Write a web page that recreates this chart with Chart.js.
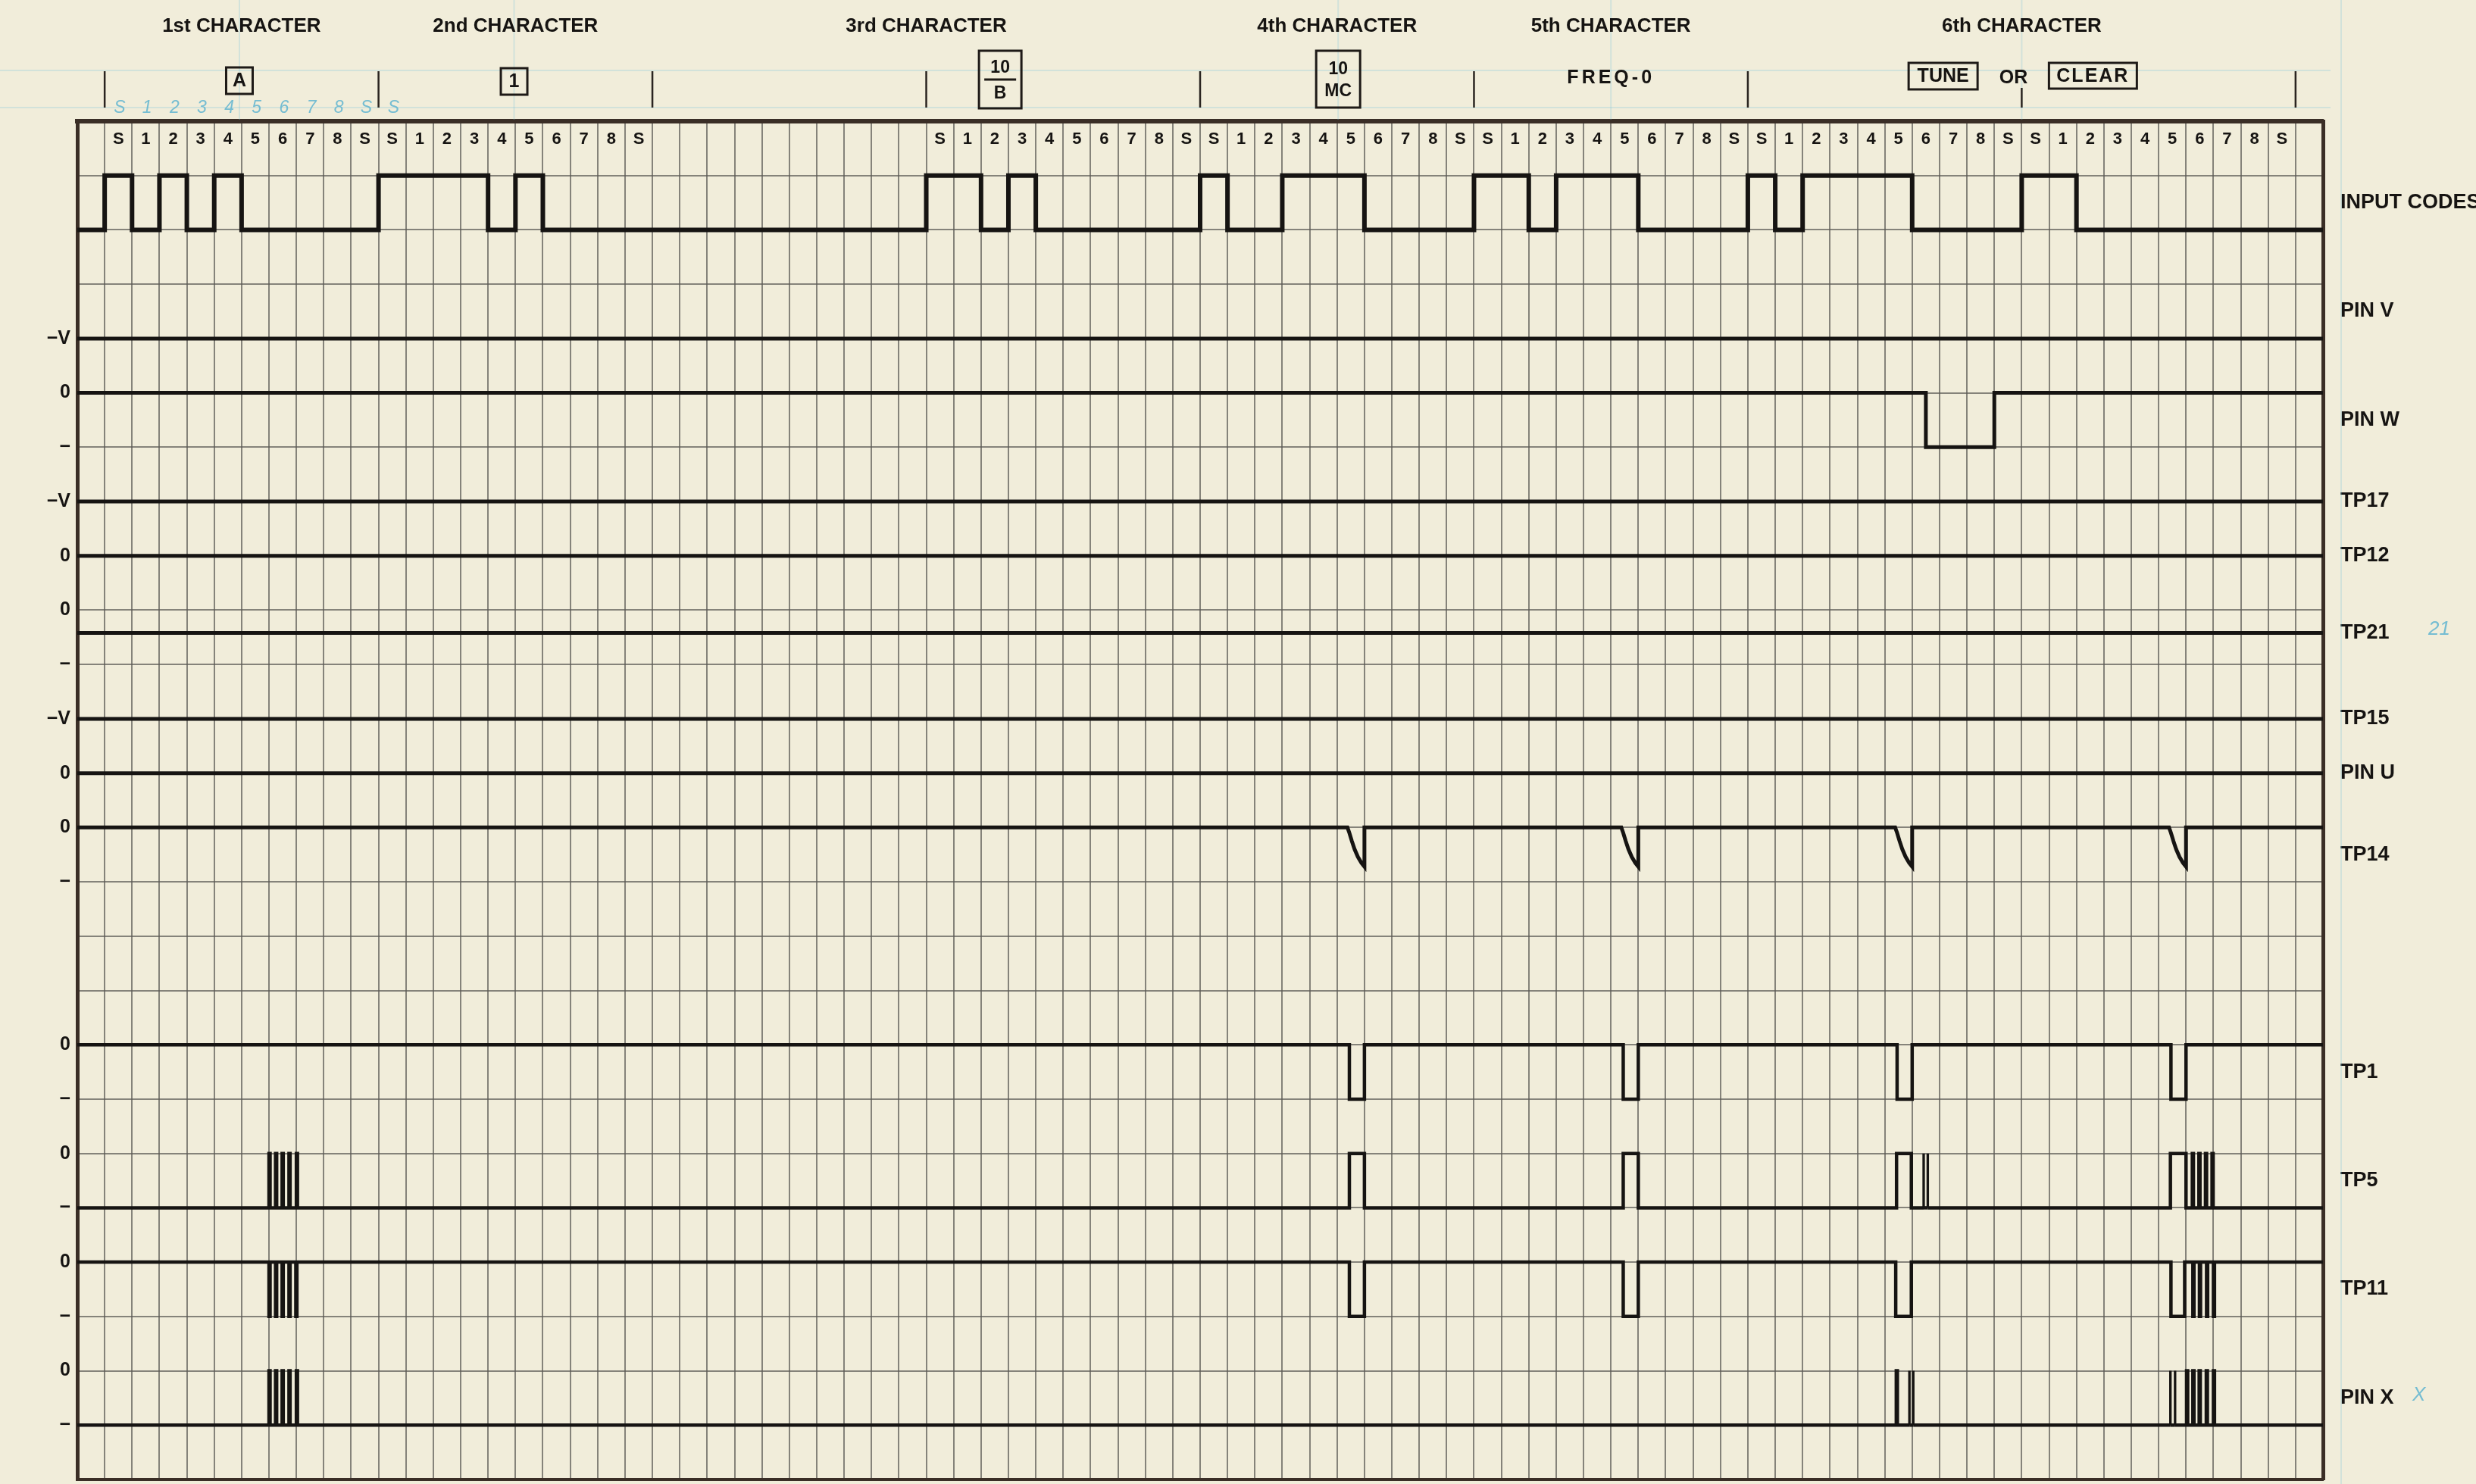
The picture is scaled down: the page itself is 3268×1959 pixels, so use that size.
<!DOCTYPE html>
<html>
<head>
<meta charset="utf-8">
<script src="https://cdn.jsdelivr.net/npm/chart.js@4.4.1/dist/chart.umd.min.js"></script>
<style>
  html, body { margin: 0; padding: 0; background: #f1edda; }
  canvas { display: block; }
</style>
</head>
<body>
<canvas id="c" width="3268" height="1959" style="width:3268px;height:1959px"></canvas>
<script>
// ---------------- DATA (column units along x, row units along y) ----------------
const COLS = 82;
const ROWS = 25;

// level labels on the left, one entry per grid row 0..25
const levelLabels = ['', '', '', '', '−V', '0', '−', '−V', '0', '0', '−', '−V', '0', '0', '−', '', '', '0', '−', '0', '−', '0', '−', '0', '−', ''];

// signal names on the right and the row each sits at
const signalNames = ['INPUT CODES', 'PIN V', 'PIN W', 'TP17', 'TP12', 'TP21', 'TP15', 'PIN U', 'TP14', 'TP1', 'TP5', 'TP11', 'PIN X'];
const signalLabelRows = [1.5, 3.5, 5.5, 7, 8, 9.42, 11, 12, 13.5, 17.5, 19.5, 21.5, 23.5];

// header
const charTitles = ['1st CHARACTER', '2nd CHARACTER', '3rd CHARACTER', '4th CHARACTER', '5th CHARACTER', '6th CHARACTER'];
const charTitleCols = [6, 16, 31, 46, 56, 71];
const charDividerCols = [1, 11, 21, 31, 41, 51, 61, 71, 81];
const codeDigits = ['S', '1', '2', '3', '4', '5', '6', '7', '8', 'S'];
const codeStartCols = [1, 11, 31, 41, 51, 61, 71];
const keyTexts = [['A'], ['1'], ['10', 'B'], ['10', 'MC'], ['FREQ-0'], ['TUNE'], ['OR'], ['CLEAR']];
const keyCols = [5.92, 15.95, 33.7, 46.04, 56, 68.13, 70.7, 73.6];
const noteDigits = ['S', '1', '2', '3', '4', '5', '6', '7', '8', 'S', 'S'];

// INPUT CODES: low row 2, high row 1
const inputLow = 2, inputHigh = 1;
const inputHighSpans = [[1, 2], [3, 4], [5, 6], [11, 15], [16, 17], [31, 33], [34, 35], [41, 42], [44, 47], [51, 53], [54, 57], [61, 62], [63, 67], [71, 73]];

// flat levels
const pinVLevel = 4;
const pinWLevel = 5, pinWLow = 6;
const pinWLowSpans = [[67.5, 70]];
const tp17Level = 7, tp12Level = 8, tp21Level = 9.42, tp15Level = 11, pinULevel = 12;

// TP14: baseline row 13 with curved negative spikes ending at the columns below
const tp14Level = 13;
const tp14SpikeCols = [47, 57, 67, 77];
const tp14SpikeDx = [-0.62, -0.55, -0.46, -0.36, -0.24, -0.11, 0, 0];
const tp14SpikeDy = [0, 0.1, 0.25, 0.4, 0.54, 0.65, 0.72, 0];

// TP1: high row 17, low row 18
const tp1High = 17, tp1Low = 18;
const tp1LowSpans = [[46.45, 47], [56.45, 57], [66.45, 67], [76.45, 77]];

// TP5: low row 20, high row 19
const tp5Low = 20, tp5High = 19;
const tp5HighSpans = [[46.45, 47], [56.45, 57], [66.43, 66.97], [76.43, 77]];
const tp5Bursts = [7, 7.24, 7.48, 7.73, 8, 77.23, 77.47, 77.71, 77.95];
const tp5ThinBursts = [67.42, 67.57];

// TP11: high row 21, low row 22
const tp11High = 21, tp11Low = 22;
const tp11LowSpans = [[46.45, 47], [56.45, 57], [66.4, 66.97], [76.45, 76.95]];
const tp11Bursts = [7, 7.24, 7.48, 7.73, 7.98, 77.25, 77.49, 77.75, 78];

// PIN X: low row 24, high row 23
const pinXLow = 24, pinXHigh = 23;
const pinXBursts = [7, 7.24, 7.48, 7.73, 8, 66.42, 77.02, 77.25, 77.48, 77.74, 78];
const pinXThinBursts = [66.9, 67.04, 76.43, 76.6];

// ---------------- helpers ----------------
const BAR = 0.04;
function stepTrace(base, alt, spans) {
  const s = spans.slice().sort((a, b) => a[0] - b[0]);
  const pts = [{ x: 0, y: base }];
  for (const [a, b] of s) {
    pts.push({ x: a, y: base }, { x: a, y: alt }, { x: b, y: alt }, { x: b, y: base });
  }
  pts.push({ x: COLS, y: base });
  return pts;
}
function burstSpans(xs) { return xs.map(x => [x, x + BAR]); }
function thinSpans(xs) { return xs.map(x => [x, x]); }
function flat(level) { return [{ x: 0, y: level }, { x: COLS, y: level }]; }
function spikeTrace(base, cols, dx, dy) {
  const pts = [{ x: 0, y: base }];
  for (const c of cols) {
    for (let i = 0; i < dx.length; i++) pts.push({ x: c + dx[i], y: base + dy[i] });
  }
  pts.push({ x: COLS, y: base });
  return pts;
}

const traces = [
  { label: 'INPUT CODES', data: stepTrace(inputLow, inputHigh, inputHighSpans), w: 6 },
  { label: 'PIN V', data: flat(pinVLevel) },
  { label: 'PIN W', data: stepTrace(pinWLevel, pinWLow, pinWLowSpans) },
  { label: 'TP17', data: flat(tp17Level) },
  { label: 'TP12', data: flat(tp12Level) },
  { label: 'TP21', data: flat(tp21Level) },
  { label: 'TP15', data: flat(tp15Level) },
  { label: 'PIN U', data: flat(pinULevel) },
  { label: 'TP14', data: spikeTrace(tp14Level, tp14SpikeCols, tp14SpikeDx, tp14SpikeDy), w: 5 },
  { label: 'TP1', data: stepTrace(tp1High, tp1Low, tp1LowSpans), w: 4.5 },
  { label: 'TP5', data: stepTrace(tp5Low, tp5High, tp5HighSpans.concat(burstSpans(tp5Bursts), thinSpans(tp5ThinBursts))), w: 4.5, thin: tp5ThinBursts },
  { label: 'TP11', data: stepTrace(tp11High, tp11Low, tp11LowSpans.concat(burstSpans(tp11Bursts))), w: 4.5 },
  { label: 'PIN X', data: stepTrace(pinXLow, pinXHigh, burstSpans(pinXBursts).concat(thinSpans(pinXThinBursts))), w: 4.5, thin: pinXThinBursts }
];

// ---------------- styles ----------------
const INK = '#161412';
const FRAME = '#3a2e26';
const GRID = 'rgba(92,90,84,0.72)';
const PAPER = '#f1edda';
const BLUE = 'rgba(95,180,208,0.85)';
const BLUE_FAINT = 'rgba(120,195,220,0.25)';
const FONT = "'Liberation Sans', Arial, sans-serif";
Chart.defaults.font.family = FONT;
const THIN_W = 3.3;

function zeroPad(s) { s.paddingTop = 0; s.paddingBottom = 0; s.paddingLeft = 0; s.paddingRight = 0; }

const paperPlugin = {
  id: 'paper',
  beforeDraw(chart) {
    const { ctx, width, height } = chart;
    ctx.save();
    ctx.fillStyle = PAPER;
    ctx.fillRect(0, 0, width, height);
    ctx.restore();
  }
};

const headerPlugin = {
  id: 'header',
  afterDraw(chart) {
    const { ctx, chartArea } = chart;
    const xs = chart.scales.x;
    const X = v => xs.getPixelForValue(v);
    ctx.save();

    // faint blue guide lines of the drafting sheet
    ctx.strokeStyle = BLUE_FAINT;
    ctx.lineWidth = 2;
    [93, 142].forEach(y => { ctx.beginPath(); ctx.moveTo(0, y); ctx.lineTo(chartArea.right + 10, y); ctx.stroke(); });
    [keyCols[0], keyCols[1], keyCols[3], keyCols[4], 71].forEach(c => {
      ctx.beginPath(); ctx.moveTo(X(c), 0); ctx.lineTo(X(c), chartArea.top - 2); ctx.stroke();
    });
    ctx.beginPath(); ctx.moveTo(3090, 0); ctx.lineTo(3090, chart.height); ctx.stroke();

    // character titles
    ctx.fillStyle = INK;
    ctx.textAlign = 'center';
    ctx.textBaseline = 'middle';
    ctx.font = 'bold 26px ' + FONT;
    charTitles.forEach((t, i) => ctx.fillText(t, X(charTitleCols[i]), 35));

    // divider ticks
    ctx.strokeStyle = '#2a2420';
    ctx.lineWidth = 2.5;
    charDividerCols.forEach(c => {
      const top = c === 71 ? 116 : 94;
      ctx.beginPath(); ctx.moveTo(X(c), top); ctx.lineTo(X(c), 142); ctx.stroke();
    });

    // key labels and boxes
    ctx.lineWidth = 3;
    ctx.strokeStyle = '#1e1a17';
    const boxGeo = [
      { w: 35, top: 89, h: 35 },
      { w: 35, top: 90, h: 35 },
      { w: 56, top: 67, h: 76 },
      { w: 58, top: 67, h: 75 },
      null,
      { w: 91, top: 83, h: 35 },
      null,
      { w: 116, top: 83, h: 34 }
    ];
    keyTexts.forEach((lines, i) => {
      const cx = X(keyCols[i]);
      const g = boxGeo[i];
      if (g) ctx.strokeRect(cx - g.w / 2, g.top, g.w, g.h);
      if (lines.length === 2) {
        ctx.font = 'bold 23px ' + FONT;
        const y1 = i === 2 ? 90 : 92, y2 = i === 2 ? 124 : 121;
        ctx.fillText(lines[0], cx, y1);
        ctx.fillText(lines[1], cx, y2);
        if (i === 2) { ctx.beginPath(); ctx.moveTo(cx - 21, 105); ctx.lineTo(cx + 21, 105); ctx.stroke(); }
      } else {
        ctx.font = 'bold 25px ' + FONT;
        const y = g ? g.top + g.h / 2 + 1 : 103;
        if (lines[0] === 'FREQ-0') { ctx.letterSpacing = '4px'; }
        else if (lines[0] === 'CLEAR') { ctx.letterSpacing = '2px'; }
        else { ctx.letterSpacing = '0px'; }
        ctx.fillText(lines[0], cx, y);
        ctx.letterSpacing = '0px';
      }
    });

    // bit labels in the first grid row
    ctx.font = 'bold 22px ' + FONT;
    ctx.fillStyle = INK;
    const yRow = chart.scales.y.getPixelForValue(0.34);
    codeStartCols.forEach(start => {
      codeDigits.forEach((d, j) => ctx.fillText(d, X(start + j + 0.5), yRow));
    });

    // handwritten blue notes
    ctx.fillStyle = BLUE;
    ctx.font = 'italic 23px ' + FONT;
    noteDigits.forEach((d, j) => ctx.fillText(d, X(1 + j + 0.55), 143));
    ctx.font = 'italic 26px ' + FONT;
    ctx.textAlign = 'left';
    ctx.fillText('21', 3205, chart.scales.y.getPixelForValue(9.35));
    ctx.fillText('X', 3184, chart.scales.y.getPixelForValue(23.45));

    ctx.restore();
  }
};

function thinSegment(thin, w) {
  return ctx => {
    const a = ctx.p0.parsed.x, b = ctx.p1.parsed.x;
    return thin.some(t => Math.abs(a - t) < 1e-6 && Math.abs(b - t) < 1e-6) ? THIN_W : w;
  };
}

new Chart(document.getElementById('c'), {
  type: 'line',
  data: {
    datasets: traces.map(t => ({
      label: t.label,
      data: t.data,
      borderColor: INK,
      borderWidth: t.w || 5,
      segment: t.thin ? { borderWidth: thinSegment(t.thin, t.w || 5) } : undefined,
      pointRadius: 0,
      pointHoverRadius: 0,
      fill: false,
      tension: 0,
      borderJoinStyle: 'miter',
      borderCapStyle: 'butt',
      xAxisID: 'x',
      yAxisID: 'y'
    }))
  },
  options: {
    responsive: false,
    devicePixelRatio: 1,
    animation: false,
    events: [],
    layout: { padding: { left: 0, right: 0, top: 160, bottom: 6 } },
    plugins: { legend: { display: false }, tooltip: { enabled: false }, title: { display: false } },
    scales: {
      x: {
        type: 'linear', position: 'bottom', min: 0, max: COLS,
        ticks: { display: false, stepSize: 1, maxTicksLimit: 200 },
        grid: { color: GRID, lineWidth: 2, drawTicks: false },
        border: { display: true, color: FRAME, width: 4 },
        afterFit: s => { s.height = 0; zeroPad(s); }
      },
      xTop: {
        type: 'linear', position: 'top', min: 0, max: COLS,
        ticks: { display: false },
        grid: { display: false, drawTicks: false },
        border: { display: true, color: FRAME, width: 6 },
        afterFit: s => { s.height = 0; zeroPad(s); }
      },
      y: {
        type: 'linear', position: 'left', reverse: true, min: 0, max: ROWS,
        ticks: {
          stepSize: 1, maxTicksLimit: 200, autoSkip: false, padding: 9, color: INK,
          font: { family: FONT, size: 25, weight: 'bold' },
          callback: v => levelLabels[Math.round(v)] || ''
        },
        grid: { color: GRID, lineWidth: 2, drawTicks: false },
        border: { display: true, color: FRAME, width: 5 },
        afterFit: s => { s.width = 102; zeroPad(s); }
      },
      yRight: {
        type: 'linear', position: 'right', reverse: true, min: 0, max: ROWS,
        afterBuildTicks: s => { s.ticks = signalLabelRows.map(v => ({ value: v })); },
        ticks: {
          autoSkip: false, padding: 23, color: INK,
          font: { family: FONT, size: 27, weight: 'bold' },
          callback: (v, i) => signalNames[i]
        },
        grid: { display: false, drawTicks: false },
        border: { display: true, color: FRAME, width: 5 },
        afterFit: s => { s.width = 202; zeroPad(s); }
      }
    }
  },
  plugins: [paperPlugin, headerPlugin]
});
</script>
</body>
</html>
